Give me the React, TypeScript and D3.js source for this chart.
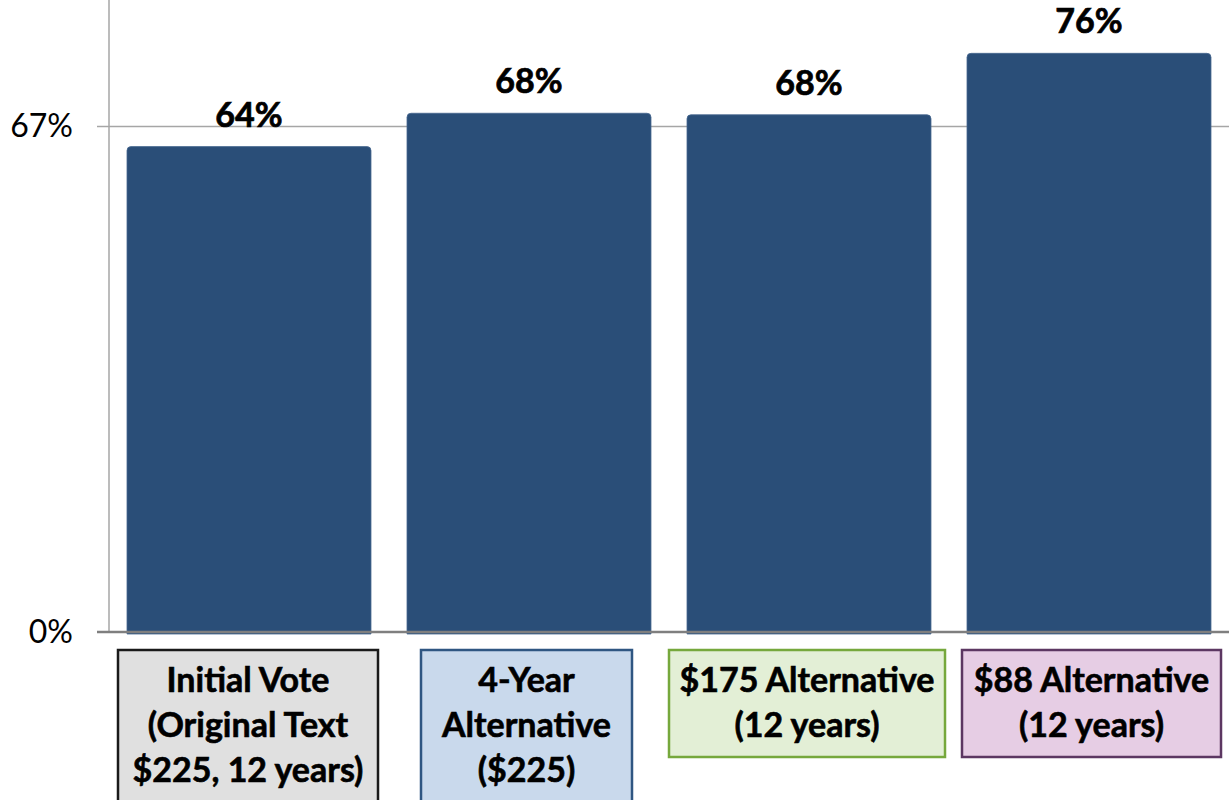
import React from "react";
import * as d3 from "d3";

// ---- data ----
const categories = ["Initial Vote", "4-Year Alternative", "$175 Alternative", "$88 Alternative"];
const categoryLines = [
  ["Initial Vote", "(Original Text", "$225, 12 years)"],
  ["4-Year", "Alternative", "($225)"],
  ["$175 Alternative", "(12 years)"],
  ["$88 Alternative", "(12 years)"],
];
const values = [64.0, 68.4, 68.2, 76.3];
const valueLabels = ["64%", "68%", "68%", "76%"];
const tickValues = [0, 200 / 3];
const tickLabels = ["0%", "67%"];

// ---- layout / style ----
const W = 1229;
const H = 800;
const plotLeft = 109;
const plotRight = 1229;
const plotTop = 0;
const plotBottom = 632;
const yMax = 250 / 3;
const barColor = "#2a4e78";
const boxStyles = [
  { fill: "#e0e0e0", stroke: "#1a1a1a", width: 260, dx: -1, bottom: 812 },
  { fill: "#c9d9ec", stroke: "#2f5682", width: 211, dx: -2.5, bottom: 812 },
  { fill: "#e3efd6", stroke: "#76a83c", width: 276, dx: -2, bottom: 757 },
  { fill: "#e6cde4", stroke: "#5c3762", width: 259, dx: 2.5, bottom: 757 },
];
const boxTop = 650;
const lineGap = 45;
const font = "Lato, 'Open Sans', sans-serif";

export default function App() {
  const x = d3
    .scaleBand<string>()
    .domain(categories)
    .range([plotLeft, plotRight])
    .paddingInner(0.1286)
    .paddingOuter(0.0643);
  const y = d3.scaleLinear().domain([0, yMax]).range([plotBottom, plotTop]);

  const r = 4;
  const barPath = (x0: number, x1: number, yTop: number, yBot: number) =>
    `M${x0},${yBot} L${x0},${yTop + r} Q${x0},${yTop} ${x0 + r},${yTop} L${x1 - r},${yTop} Q${x1},${yTop} ${x1},${yTop + r} L${x1},${yBot} Z`;

  return (
    <svg
      width={W}
      height={H}
      style={{ position: "absolute", left: 0, top: 0, background: "#fff" }}
      fontFamily={font}
    >
      {/* gridlines */}
      {tickValues.map((t, i) =>
        t === 0 ? null : (
          <line key={"g" + i} x1={plotLeft - 12} x2={plotRight} y1={y(t)} y2={y(t)} stroke="#a6a6a6" strokeWidth={1.5} />
        )
      )}
      {/* y axis line */}
      <line x1={plotLeft} x2={plotLeft} y1={plotTop} y2={plotBottom} stroke="#a6a6a6" strokeWidth={1.5} />
      {/* tick labels */}
      {tickValues.map((t, i) => (
        <text key={"t" + i} x={73} y={y(t) + 11} textAnchor="end" fontSize={32} fill="#000">
          {tickLabels[i]}
        </text>
      ))}
      {/* bars */}
      {values.map((v, i) => {
        const x0 = x(categories[i])!;
        const x1 = x0 + x.bandwidth();
        return (
          <path
            key={"b" + i}
            d={barPath(x0, x1, y(v), plotBottom + 2)}
            fill={barColor}
            stroke="#46678f"
            strokeWidth={0.8}
          />
        );
      })}
      {/* baseline */}
      <line x1={plotLeft - 12} x2={plotRight} y1={plotBottom} y2={plotBottom} stroke="#7f7f7f" strokeWidth={2.5} />
      {/* value labels */}
      {values.map((v, i) => (
        <text
          key={"v" + i}
          x={x(categories[i])! + x.bandwidth() / 2}
          y={y(v) - 20}
          textAnchor="middle"
          fontSize={34}
          fontWeight="bold"
          fill="#000"
          stroke="#000"
          strokeWidth={0.7}
        >
          {valueLabels[i]}
        </text>
      ))}
      {/* category boxes */}
      {categories.map((c, i) => {
        const cx = x(c)! + x.bandwidth() / 2 + boxStyles[i].dx;
        const bw = boxStyles[i].width;
        return (
          <g key={"c" + i}>
            <rect
              x={cx - bw / 2}
              y={boxTop}
              width={bw}
              height={boxStyles[i].bottom - boxTop}
              fill={boxStyles[i].fill}
              stroke={boxStyles[i].stroke}
              strokeWidth={2.5}
            />
            {categoryLines[i].map((ln, j) => (
              <text
                key={j}
                x={cx}
                y={692 + j * lineGap}
                textAnchor="middle"
                fontSize={34}
                fontWeight="bold"
                fill="#000"
                stroke="#000"
                strokeWidth={0.6}
              >
                {ln}
              </text>
            ))}
          </g>
        );
      })}
    </svg>
  );
}
